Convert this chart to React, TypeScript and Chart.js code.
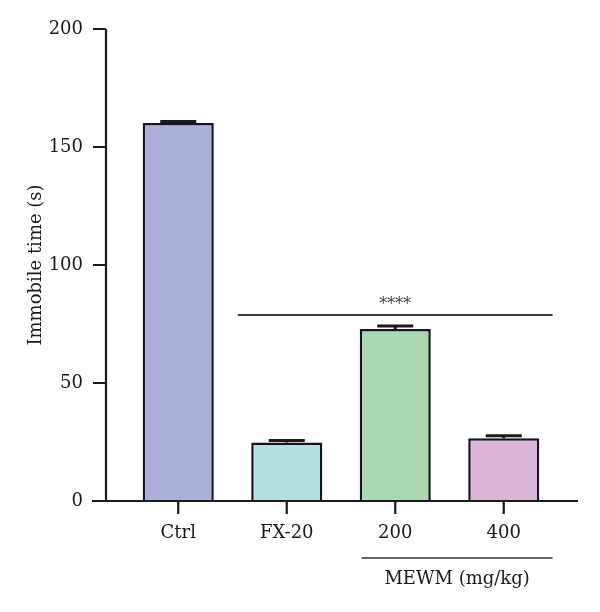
import React, { useEffect, useRef } from "react";
import { Chart, registerables } from "chart.js";

Chart.register(...registerables);

const categories = ["Ctrl", "FX-20", "200", "400"];
const meanValues = [160.2, 24.8, 72.9, 26.6];
const semValues = [0.6, 0.8, 1.3, 1.0];
const barColors = ["#abb0d9", "#b4e1e0", "#a8d9b1", "#dbb5d7"];
const yTicks = [0, 50, 100, 150, 200];
const significance = { from: 0.55, to: 3.45, level: 78.8, label: "****" };
const groupLabel = { text: "MEWM (mg/kg)", from: 1.69, to: 3.45 };
const yTitle = "Immobile time (s)";

const FONT = "'DejaVu Serif', serif";
const INK = "#1a1a1a";

const decorPlugin = {
  id: "decor",
  afterDatasetsDraw(chart: any) {
    const ctx = chart.ctx;
    const x = chart.scales.x;
    const y = chart.scales.y;
    const area = chart.chartArea;
    const meta = chart.getDatasetMeta(0);
    ctx.save();

    // error bars (mean + SEM)
    ctx.strokeStyle = "#1a1a1a";
    ctx.lineWidth = 3;
    meta.data.forEach((bar: any, i: number) => {
      const top = y.getPixelForValue(meanValues[i] + semValues[i]);
      const base = y.getPixelForValue(meanValues[i]);
      ctx.beginPath();
      ctx.moveTo(bar.x, base);
      ctx.lineTo(bar.x, top);
      ctx.moveTo(bar.x - 18, top);
      ctx.lineTo(bar.x + 18, top);
      ctx.stroke();
    });

    // axes with tick marks
    const axisX = area.left - 18;
    ctx.strokeStyle = INK;
    ctx.lineWidth = 2.2;
    ctx.beginPath();
    ctx.moveTo(axisX, area.top);
    ctx.lineTo(axisX, area.bottom);
    ctx.moveTo(axisX - 14, area.bottom);
    ctx.lineTo(area.right + 20, area.bottom);
    yTicks.forEach((v) => {
      const py = y.getPixelForValue(v);
      ctx.moveTo(axisX - 13, py);
      ctx.lineTo(axisX, py);
    });
    categories.forEach((_, i) => {
      const px = x.getPixelForValue(i);
      ctx.moveTo(px, area.bottom);
      ctx.lineTo(px, area.bottom + 13);
    });
    ctx.stroke();

    // tick labels
    ctx.fillStyle = INK;
    ctx.font = `18px ${FONT}`;
    ctx.textBaseline = "middle";
    ctx.textAlign = "right";
    yTicks.forEach((v) => {
      ctx.fillText(String(v), axisX - 23, y.getPixelForValue(v));
    });
    ctx.textAlign = "center";
    categories.forEach((c, i) => {
      ctx.fillText(c, x.getPixelForValue(i), area.bottom + 32);
    });

    // significance bracket
    const sy = y.getPixelForValue(significance.level);
    ctx.strokeStyle = "#3a3a3a";
    ctx.lineWidth = 2;
    ctx.beginPath();
    ctx.moveTo(x.getPixelForValue(significance.from), sy);
    ctx.lineTo(x.getPixelForValue(significance.to), sy);
    ctx.stroke();
    ctx.fillStyle = "#444";
    ctx.font = `16px ${FONT}`;
    ctx.textBaseline = "bottom";
    const midSig = (x.getPixelForValue(significance.from) + x.getPixelForValue(significance.to)) / 2;
    ctx.fillText(significance.label, midSig, sy - 2);

    // dose group label
    const gx1 = x.getPixelForValue(groupLabel.from);
    const gx2 = x.getPixelForValue(groupLabel.to);
    const gy = area.bottom + 57;
    ctx.strokeStyle = "#333";
    ctx.lineWidth = 1.3;
    ctx.beginPath();
    ctx.moveTo(gx1, gy);
    ctx.lineTo(gx2, gy);
    ctx.stroke();
    ctx.fillStyle = INK;
    ctx.font = `18px ${FONT}`;
    ctx.textBaseline = "middle";
    ctx.fillText(groupLabel.text, (gx1 + gx2) / 2, gy + 21);

    // y-axis title
    ctx.translate(36, (area.top + area.bottom) / 2);
    ctx.rotate(-Math.PI / 2);
    ctx.fillText(yTitle, 0, 0);
    ctx.restore();
  },
};

export default function App() {
  const ref = useRef<HTMLCanvasElement>(null);

  useEffect(() => {
    document.body.style.margin = "0";
    const chart = new Chart(ref.current!, {
      type: "bar",
      data: {
        labels: categories,
        datasets: [
          {
            data: meanValues,
            backgroundColor: barColors,
            borderColor: "#151525",
            borderWidth: 2.5,
            barPercentage: 0.655,
            categoryPercentage: 1,
          },
        ],
      },
      options: {
        animation: false,
        responsive: false,
        layout: { autoPadding: false, padding: { left: 124, right: 42, top: 29, bottom: 111 } },
        plugins: { legend: { display: false }, tooltip: { enabled: false } },
        scales: {
          x: { display: false },
          y: { display: false, min: 0, max: 200 },
        },
      },
      plugins: [decorPlugin],
    });
    return () => chart.destroy();
  }, []);

  return (
    <div style={{ width: 600, height: 612, background: "#fff" }}>
      <canvas ref={ref} width={600} height={612} />
    </div>
  );
}
